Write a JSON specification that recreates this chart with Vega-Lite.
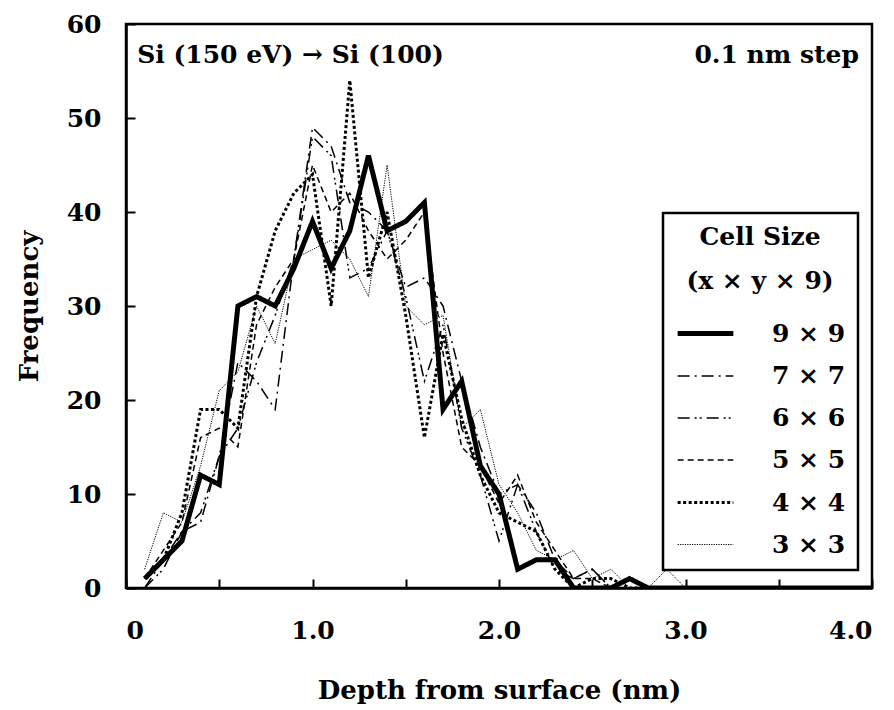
{
  "$schema": "https://vega.github.io/schema/vega-lite/v6.json",
  "width": 746,
  "height": 564,
  "autosize": {"type": "none"},
  "padding": {"left": 126, "top": 24, "right": 22, "bottom": 122},
  "background": "white",
  "config": {
    "view": {"stroke": "black", "strokeWidth": 2.5},
    "font": "DejaVu Serif",
    "axis": {
      "grid": false,
      "domainColor": "black",
      "domainWidth": 2.5,
      "tickColor": "black",
      "tickWidth": 2,
      "tickSize": -9,
      "labelFont": "DejaVu Serif",
      "labelFontWeight": "bold",
      "labelFontSize": 25,
      "labelColor": "black",
      "titleFont": "DejaVu Serif",
      "titleFontWeight": "bold",
      "titleFontSize": 26,
      "titleColor": "black"
    },
    "legend": {
      "orient": "none",
      "legendX": 537,
      "legendY": 189,
      "strokeColor": "black",
      "strokeWidth": 2.5,
      "fillColor": "white",
      "padding": 12,
      "symbolType": "stroke",
      "symbolSize": 3100,
      "symbolStrokeColor": "black",
      "labelFont": "DejaVu Serif",
      "labelFontWeight": "bold",
      "labelFontSize": 25,
      "labelColor": "black",
      "labelOffset": 36,
      "labelBaseline": "middle",
      "titleFont": "DejaVu Serif",
      "titleFontWeight": "bold",
      "titleFontSize": 25,
      "titleColor": "black",
      "titleAnchor": "middle",
      "titleAlign": "center",
      "titleLineHeight": 44,
      "titlePadding": 9,
      "rowPadding": 0,
      "titleLimit": 400,
      "labelLimit": 300
    }
  },
  "layer": [
    {
      "data": {
        "values": [
          {"d": 0.1, "9 × 9": 1, "7 × 7": 0, "6 × 6": 0, "5 × 5": 1, "4 × 4": 1, "3 × 3": 2},
          {"d": 0.2, "9 × 9": 3, "7 × 7": 3, "6 × 6": 2, "5 × 5": 4, "4 × 4": 3, "3 × 3": 8},
          {"d": 0.3, "9 × 9": 5, "7 × 7": 6, "6 × 6": 6, "5 × 5": 7, "4 × 4": 8, "3 × 3": 7},
          {"d": 0.4, "9 × 9": 12, "7 × 7": 7, "6 × 6": 8, "5 × 5": 16, "4 × 4": 19, "3 × 3": 13},
          {"d": 0.5, "9 × 9": 11, "7 × 7": 14, "6 × 6": 14, "5 × 5": 17, "4 × 4": 19, "3 × 3": 21},
          {"d": 0.6, "9 × 9": 30, "7 × 7": 24, "6 × 6": 17, "5 × 5": 15, "4 × 4": 17, "3 × 3": 23},
          {"d": 0.7, "9 × 9": 31, "7 × 7": 22, "6 × 6": 24, "5 × 5": 28, "4 × 4": 31, "3 × 3": 30},
          {"d": 0.8, "9 × 9": 30, "7 × 7": 19, "6 × 6": 29, "5 × 5": 32, "4 × 4": 38, "3 × 3": 26},
          {"d": 0.9, "9 × 9": 34, "7 × 7": 35, "6 × 6": 35, "5 × 5": 35, "4 × 4": 42, "3 × 3": 35},
          {"d": 1.0, "9 × 9": 39, "7 × 7": 49, "6 × 6": 48, "5 × 5": 45, "4 × 4": 44, "3 × 3": 36},
          {"d": 1.1, "9 × 9": 34, "7 × 7": 47, "6 × 6": 46, "5 × 5": 40, "4 × 4": 30, "3 × 3": 37},
          {"d": 1.2, "9 × 9": 38, "7 × 7": 41, "6 × 6": 33, "5 × 5": 42, "4 × 4": 54, "3 × 3": 35},
          {"d": 1.3, "9 × 9": 46, "7 × 7": 40, "6 × 6": 34, "5 × 5": 38, "4 × 4": 33, "3 × 3": 31},
          {"d": 1.4, "9 × 9": 38, "7 × 7": 38, "6 × 6": 38, "5 × 5": 35, "4 × 4": 40, "3 × 3": 45},
          {"d": 1.5, "9 × 9": 39, "7 × 7": 32, "6 × 6": 31, "5 × 5": 37, "4 × 4": 29, "3 × 3": 30},
          {"d": 1.6, "9 × 9": 41, "7 × 7": 33, "6 × 6": 22, "5 × 5": 40, "4 × 4": 16, "3 × 3": 28},
          {"d": 1.7, "9 × 9": 19, "7 × 7": 30, "6 × 6": 28, "5 × 5": 25, "4 × 4": 27, "3 × 3": 29},
          {"d": 1.8, "9 × 9": 22, "7 × 7": 22, "6 × 6": 17, "5 × 5": 15, "4 × 4": 18, "3 × 3": 17},
          {"d": 1.9, "9 × 9": 13, "7 × 7": 15, "6 × 6": 12, "5 × 5": 13, "4 × 4": 12, "3 × 3": 19},
          {"d": 2.0, "9 × 9": 10, "7 × 7": 10, "6 × 6": 5, "5 × 5": 9, "4 × 4": 8, "3 × 3": 11},
          {"d": 2.1, "9 × 9": 2, "7 × 7": 11, "6 × 6": 11, "5 × 5": 12, "4 × 4": 7, "3 × 3": 8},
          {"d": 2.2, "9 × 9": 3, "7 × 7": 8, "6 × 6": 6, "5 × 5": 7, "4 × 4": 6, "3 × 3": 4},
          {"d": 2.3, "9 × 9": 3, "7 × 7": 3, "6 × 6": 2, "5 × 5": 4, "4 × 4": 2, "3 × 3": 3},
          {"d": 2.4, "9 × 9": 0, "7 × 7": 1, "6 × 6": 1, "5 × 5": 1, "4 × 4": 0, "3 × 3": 4},
          {"d": 2.5, "9 × 9": 0, "7 × 7": 2, "6 × 6": 2, "5 × 5": 1, "4 × 4": 1, "3 × 3": 1},
          {"d": 2.6, "9 × 9": 0, "7 × 7": 0, "6 × 6": 0, "5 × 5": 0, "4 × 4": 1, "3 × 3": 2},
          {"d": 2.7, "9 × 9": 1, "7 × 7": 0, "6 × 6": 0, "5 × 5": 0, "4 × 4": 0, "3 × 3": 0},
          {"d": 2.8, "9 × 9": 0, "7 × 7": 0, "6 × 6": 0, "5 × 5": 0, "4 × 4": 0, "3 × 3": 0},
          {"d": 2.9, "9 × 9": 0, "7 × 7": 0, "6 × 6": 0, "5 × 5": 0, "4 × 4": 0, "3 × 3": 2},
          {"d": 3.0, "9 × 9": 0, "7 × 7": 0, "6 × 6": 0, "5 × 5": 0, "4 × 4": 0, "3 × 3": 0},
          {"d": 3.1, "9 × 9": 0, "7 × 7": 0, "6 × 6": 0, "5 × 5": 0, "4 × 4": 0, "3 × 3": 0},
          {"d": 3.2, "9 × 9": 0, "7 × 7": 0, "6 × 6": 0, "5 × 5": 0, "4 × 4": 0, "3 × 3": 0},
          {"d": 3.3, "9 × 9": 0, "7 × 7": 0, "6 × 6": 0, "5 × 5": 0, "4 × 4": 0, "3 × 3": 0},
          {"d": 3.4, "9 × 9": 0, "7 × 7": 0, "6 × 6": 0, "5 × 5": 0, "4 × 4": 0, "3 × 3": 0},
          {"d": 3.5, "9 × 9": 0, "7 × 7": 0, "6 × 6": 0, "5 × 5": 0, "4 × 4": 0, "3 × 3": 0},
          {"d": 3.6, "9 × 9": 0, "7 × 7": 0, "6 × 6": 0, "5 × 5": 0, "4 × 4": 0, "3 × 3": 0},
          {"d": 3.7, "9 × 9": 0, "7 × 7": 0, "6 × 6": 0, "5 × 5": 0, "4 × 4": 0, "3 × 3": 0},
          {"d": 3.8, "9 × 9": 0, "7 × 7": 0, "6 × 6": 0, "5 × 5": 0, "4 × 4": 0, "3 × 3": 0},
          {"d": 3.9, "9 × 9": 0, "7 × 7": 0, "6 × 6": 0, "5 × 5": 0, "4 × 4": 0, "3 × 3": 0},
          {"d": 4.0, "9 × 9": 0, "7 × 7": 0, "6 × 6": 0, "5 × 5": 0, "4 × 4": 0, "3 × 3": 0}
        ]
      },
      "transform": [
        {"fold": ["3 × 3", "4 × 4", "5 × 5", "6 × 6", "7 × 7", "9 × 9"], "as": ["cell", "freq"]}
      ],
      "mark": {"type": "line", "color": "black", "strokeJoin": "miter", "strokeCap": "butt", "clip": true},
      "encoding": {
        "x": {
          "field": "d", "type": "quantitative",
          "scale": {"domain": [0, 4], "nice": false},
          "axis": {
            "title": "Depth from surface (nm)",
            "values": [0, 0.5, 1, 1.5, 2, 2.5, 3, 3.5, 4],
            "labelExpr": "datum.value === 0 ? '0' : (datum.value % 1 === 0 ? format(datum.value, '.1f') : '')",
            "labelPadding": 39,
            "titlePadding": 34
          }
        },
        "y": {
          "field": "freq", "type": "quantitative",
          "scale": {"domain": [0, 60], "nice": false},
          "axis": {
            "title": "Frequency",
            "values": [0, 10, 20, 30, 40, 50, 60],
            "labelPadding": 34,
            "titlePadding": 24
          }
        },
        "strokeDash": {
          "field": "cell", "type": "nominal",
          "scale": {
            "domain": ["9 × 9", "7 × 7", "6 × 6", "5 × 5", "4 × 4", "3 × 3"],
            "range": [[1, 0], [12, 5, 2, 5], [12, 5, 2, 3, 2, 5], [6, 4], [3, 2.5], [1.2, 1.2]]
          },
          "legend": {"title": ["Cell Size", "(x × y × 9)"]}
        },
        "strokeWidth": {
          "field": "cell", "type": "nominal",
          "scale": {
            "type": "ordinal",
            "domain": ["9 × 9", "7 × 7", "6 × 6", "5 × 5", "4 × 4", "3 × 3"],
            "range": [5, 1.5, 1.5, 1.5, 3, 1]
          },
          "legend": {"title": ["Cell Size", "(x × y × 9)"]}
        },
        "order": {"field": "d", "type": "quantitative"}
      }
    },
    {
      "data": {"values": [{"label": "Si (150 eV) → Si (100)"}]},
      "mark": {"type": "text", "align": "left", "baseline": "middle", "font": "DejaVu Serif", "fontWeight": "bold", "fontSize": 25, "color": "black"},
      "encoding": {
        "x": {"datum": 0.06, "type": "quantitative"},
        "y": {"datum": 56.7, "type": "quantitative"},
        "text": {"field": "label"}
      }
    },
    {
      "data": {"values": [{"label": "0.1 nm step"}]},
      "mark": {"type": "text", "align": "right", "baseline": "middle", "font": "DejaVu Serif", "fontWeight": "bold", "fontSize": 25, "color": "black"},
      "encoding": {
        "x": {"datum": 3.93, "type": "quantitative"},
        "y": {"datum": 56.7, "type": "quantitative"},
        "text": {"field": "label"}
      }
    }
  ]
}
